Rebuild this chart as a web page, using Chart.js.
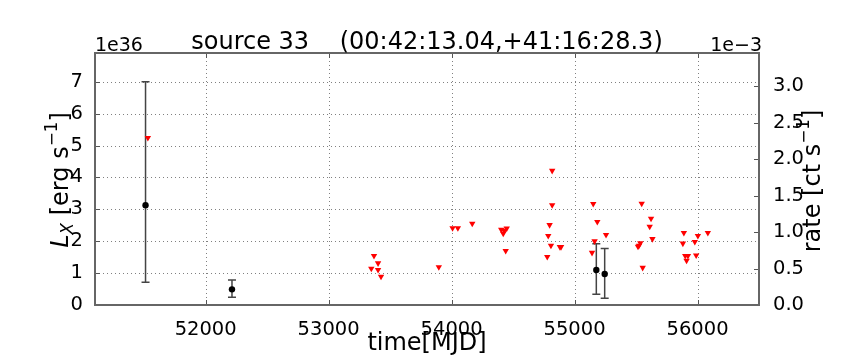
<!DOCTYPE html>
<html>
<head>
<meta charset="utf-8">
<script src="https://cdn.jsdelivr.net/npm/chart.js@4"></script>
<style>
  html, body { margin: 0; padding: 0; background: #fff; }
  #wrap { width: 864px; height: 360px; }
</style>
</head>
<body>
<div id="wrap"><canvas id="lc"></canvas></div>
<script>
// detections (L_X in 1e36 erg/s) with error bars
var detT  = [51511, 52214, 55177, 55245];
var detL  = [3.13, 0.49, 1.10, 0.97];
var detLo = [0.71, 0.24, 0.34, 0.21];
var detHi = [7.00, 0.78, 1.92, 1.77];

// upper limits (L_X in 1e36 erg/s)
var limT = [51530, 53369, 53402, 53347, 53402, 53426, 53896, 54008, 54051, 54168,
            54404, 54448, 54420, 54429, 54440, 54818, 54818, 54797, 54786, 54808,
            54778, 54881, 54890, 55152, 55185, 55256, 55163, 55142, 55546, 55622,
            55611, 55633, 55535, 55516, 55524, 55554, 55889, 55881, 55900, 55922,
            55911, 55978, 56003, 55989, 56084];
var limL = [5.24, 1.54, 1.31, 1.14, 1.10, 0.89, 1.19, 2.41, 2.41, 2.55,
            2.36, 2.40, 2.24, 2.33, 1.70, 4.21, 3.13, 2.51, 2.17, 1.86,
            1.51, 1.82, 1.82, 3.17, 2.61, 2.20, 2.00, 1.64, 3.18, 2.71,
            2.46, 2.07, 1.94, 1.83, 1.86, 1.17, 2.26, 1.93, 1.54, 1.54,
            1.39, 1.98, 2.17, 1.56, 2.26];

var xTicks = [52000, 53000, 54000, 55000, 56000];
var lTicks = [0, 1, 2, 3, 4, 5, 6, 7];
var rTicks = [0, 0.5, 1.0, 1.5, 2.0, 2.5, 3.0];

var FONT = "'DejaVu Sans'";

function pts(xs, ys) {
  return xs.map(function (x, i) { return { x: x, y: ys[i] }; });
}

function keepTicks(list) {
  return function (scale) {
    scale.ticks = list.map(function (v) { return { value: v }; });
  };
}

// text with sub/superscript pieces, rotated -90 deg; baseline at cx + 0.35*size
function drawParts(ctx, parts, cx, cy, size) {
  ctx.save();
  ctx.translate(cx, cy);
  ctx.rotate(-Math.PI / 2);
  var total = 0;
  parts.forEach(function (p) {
    ctx.font = (p.it ? 'italic ' : '') + (size * (p.s || 1)).toFixed(1) + 'px ' + FONT;
    p.w = ctx.measureText(p.t).width;
    total += p.w;
  });
  var x = -total / 2;
  ctx.fillStyle = '#000';
  ctx.textBaseline = 'alphabetic';
  ctx.textAlign = 'left';
  parts.forEach(function (p) {
    ctx.font = (p.it ? 'italic ' : '') + (size * (p.s || 1)).toFixed(1) + 'px ' + FONT;
    ctx.fillText(p.t, x, (p.dy || 0) * size + size * 0.35);
    x += p.w;
  });
  ctx.restore();
}

var extras = {
  id: 'extras',
  beforeDatasetsDraw: function (chart) {
    var ctx = chart.ctx, a = chart.chartArea;
    var xs = chart.scales.x, ys = chart.scales.yL;
    ctx.save();
    // dotted grid
    ctx.strokeStyle = '#808080';
    ctx.lineWidth = 1;
    ctx.setLineDash([1, 3]);
    ctx.beginPath();
    xTicks.forEach(function (v) {
      var p = Math.round(xs.getPixelForValue(v)) + 0.5;
      ctx.moveTo(p, a.top); ctx.lineTo(p, a.bottom);
    });
    lTicks.forEach(function (v) {
      var p = Math.round(ys.getPixelForValue(v)) + 0.5;
      ctx.moveTo(a.left, p); ctx.lineTo(a.right, p);
    });
    ctx.stroke();
    ctx.setLineDash([]);
    // error bars
    ctx.strokeStyle = '#444';
    ctx.lineWidth = 1.5;
    detT.forEach(function (t, i) {
      var px = xs.getPixelForValue(t);
      var top = ys.getPixelForValue(detHi[i]);
      var bot = ys.getPixelForValue(detLo[i]);
      ctx.beginPath();
      ctx.moveTo(px, top); ctx.lineTo(px, bot);
      ctx.moveTo(px - 4, top); ctx.lineTo(px + 4, top);
      ctx.moveTo(px - 4, bot); ctx.lineTo(px + 4, bot);
      ctx.stroke();
    });
    ctx.restore();
  },
  afterDraw: function (chart) {
    var ctx = chart.ctx, a = chart.chartArea;
    var xs = chart.scales.x, yl = chart.scales.yL, yr = chart.scales.yR;
    ctx.save();
    // inward ticks
    ctx.strokeStyle = '#555';
    ctx.lineWidth = 1;
    ctx.beginPath();
    xTicks.forEach(function (v) {
      var p = Math.round(xs.getPixelForValue(v)) + 0.5;
      ctx.moveTo(p, a.bottom); ctx.lineTo(p, a.bottom - 5);
      ctx.moveTo(p, a.top); ctx.lineTo(p, a.top + 5);
    });
    lTicks.forEach(function (v) {
      var p = Math.round(yl.getPixelForValue(v)) + 0.5;
      ctx.moveTo(a.left, p); ctx.lineTo(a.left + 5, p);
    });
    rTicks.forEach(function (v) {
      var p = Math.round(yr.getPixelForValue(v)) + 0.5;
      ctx.moveTo(a.right, p); ctx.lineTo(a.right - 5, p);
    });
    ctx.stroke();
    // frame
    ctx.strokeStyle = '#666';
    ctx.lineWidth = 2;
    ctx.strokeRect(a.left, a.top, a.right - a.left, a.bottom - a.top);

    ctx.fillStyle = '#000';
    ctx.textBaseline = 'alphabetic';
    // title
    ctx.font = '24px ' + FONT;
    ctx.textAlign = 'center';
    ctx.fillText('source 33    (00:42:13.04,+41:16:28.3)', (a.left + a.right) / 2, 49);
    // offset texts
    ctx.font = '19px ' + FONT;
    ctx.textAlign = 'left';
    ctx.fillText('1e36', a.left, 51);
    ctx.textAlign = 'right';
    ctx.fillText('1e\u22123', a.right + 3, 51);
    // x label
    ctx.font = '24px ' + FONT;
    ctx.textAlign = 'center';
    ctx.fillText('time[MJD]', (a.left + a.right) / 2, 350);
    ctx.restore();

    drawParts(ctx, [
      { t: 'L', it: true },
      { t: 'X', it: true, s: 0.7, dy: 0.22 },
      { t: ' [erg s' },
      { t: '\u22121', s: 0.7, dy: -0.45 },
      { t: ']' }
    ], 59.6, 180, 24);
    drawParts(ctx, [
      { t: 'rate [ct s' },
      { t: '\u22121', s: 0.7, dy: -0.45 },
      { t: ']' }
    ], 811.6, 181, 24);
  }
};

new Chart(document.getElementById('lc'), {
  type: 'scatter',
  data: {
    datasets: [{
      label: 'detections',
      data: pts(detT, detL),
      yAxisID: 'yL',
      pointStyle: 'circle',
      pointRadius: 3.2,
      backgroundColor: '#000',
      borderColor: '#000',
      borderWidth: 0
    }, {
      label: 'upper limits',
      data: pts(limT, limL),
      yAxisID: 'yL',
      pointStyle: 'triangle',
      rotation: 180,
      pointRadius: 3.7,
      backgroundColor: '#ff0000',
      borderColor: '#ff0000',
      borderWidth: 0
    }]
  },
  options: {
    responsive: true,
    maintainAspectRatio: false,
    animation: false,
    layout: { padding: { top: 53, left: 0, right: 0, bottom: 0 } },
    plugins: { legend: { display: false }, tooltip: { enabled: false }, title: { display: false } },
    scales: {
      x: {
        type: 'linear',
        min: 51100,
        max: 56500,
        afterBuildTicks: keepTicks(xTicks),
        afterFit: function (s) { s.height = 55; },
        border: { display: false },
        grid: { display: false },
        ticks: { font: { family: FONT, size: 19.5 }, color: '#000', padding: 5, maxRotation: 0,
                 callback: function (v) { return String(v); } }
      },
      yL: {
        type: 'linear',
        position: 'left',
        min: 0,
        max: 7.9,
        afterBuildTicks: keepTicks(lTicks),
        afterFit: function (s) { s.width = 95; },
        border: { display: false },
        grid: { display: false },
        ticks: { font: { family: FONT, size: 19.5 }, color: '#000', padding: 4,
                 callback: function (v) { return String(v); } }
      },
      yR: {
        type: 'linear',
        position: 'right',
        min: 0,
        max: 3.455,
        afterBuildTicks: keepTicks(rTicks),
        afterFit: function (s) { s.width = 105; },
        border: { display: false },
        grid: { display: false },
        ticks: { font: { family: FONT, size: 19.5 }, color: '#000', padding: 6,
                 callback: function (v) { return v.toFixed(1); } }
      }
    }
  },
  plugins: [extras]
});
</script>
</body>
</html>
